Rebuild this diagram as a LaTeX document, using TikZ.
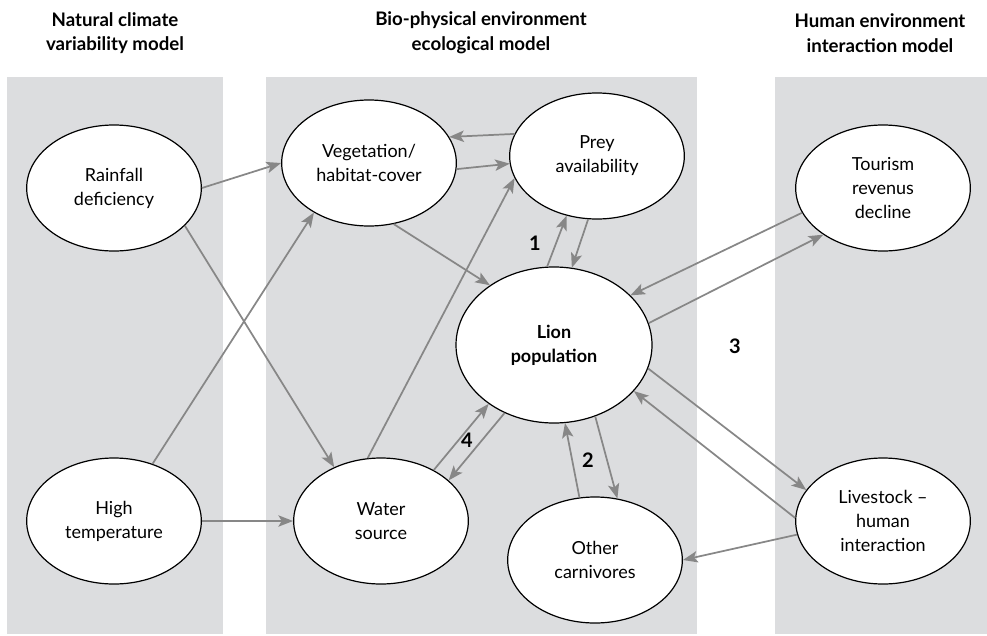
\documentclass[tikz,border=0pt]{standalone}
\usepackage{fontspec}
\setmainfont{Lato}
\usetikzlibrary{arrows.meta,shapes.geometric}
\definecolor{bandgray}{HTML}{DCDDDF}
\definecolor{linkgray}{HTML}{878787}
\begin{document}
\begin{tikzpicture}[x=0.75pt, y=-0.75pt,
    every node/.style={font=\fontsize{13.5}{18}\selectfont, align=center},
    factor/.style={draw, ellipse, fill=white, line width=0.9pt, inner sep=0pt,
      minimum width=131pt, minimum height=94.5pt},
    link/.style={draw=linkgray, line width=1.3pt,
      -{Stealth[length=11pt,width=8.5pt,inset=2.5pt]}},
    heading/.style={font=\bfseries\fontsize{14}{18.5}\selectfont},
    tag/.style={font=\bfseries\fontsize{15}{18}\selectfont}]
  \useasboundingbox (0,0) rectangle (987,635);
  % the three model bands
  \fill [bandgray] (7,77) rectangle (223,634);
  \fill [bandgray] (266,77) rectangle (697,634);
  \fill [bandgray] (775,77) rectangle (987,634);
  \node [heading] (climate) at (115,33) {Natural climate\\variability model};
  \node [heading] (bio) at (481,33) {Bio-physical environment\\ecological model};
  \node [heading] (human) at (880,33) {Human environment\\interaction model};
  % factors
  \node [factor] (rain) at (114,188) {Rainfall\\deficiency};
  \node [factor] (temp) at (114,521) {High\\temperature};
  \node [factor] (veg) at (369,163) {Vegetation/\\habitat-cover};
  \node [factor] (prey) at (597,156) {Prey\\availability};
  \node [factor, minimum width=147pt, minimum height=117pt] (lion) at (554,345) {\textbf{Lion}\\\textbf{population}};
  \node [factor] (water) at (381,521) {Water\\source};
  \node [factor] (other) at (595,560) {Other\\carnivores};
  \node [factor] (tour) at (883,188) {Tourism\\revenus\\decline};
  \node [factor] (live) at (883,521) {Livestock --\\human\\interaction};
  % links
  \draw [link] (rain.0) -- (veg.180);
  \draw [link] (rain.-28) -- (water.131);
  \draw [link] (temp.56) -- (veg.222);
  \draw [link] (temp.0) -- (water.180);
  \draw [link] (prey.165) -- (veg.18);
  \draw [link] (veg.-4) -- (prey.185);
  \draw [link] (water.102) -- (prey.195);
  \draw [link] (veg.292) -- (lion.137);
  \draw [link] (lion.95) -- (prey.243);
  \draw [link] (prey.262) -- (lion.77);
  \draw [link] (tour.197) -- (lion.33);
  \draw [link] (lion.13) -- (tour.218);
  \draw [link] (lion.-14) -- (live.158);
  \draw [link] (live.178) -- (lion.-30);
  \draw [link] (live.189) -- (other.0);
  \draw [link] (other.104) -- (lion.278);
  \draw [link] (lion.300) -- (other.70);
  \draw [link] (water.44) -- (lion.222);
  \draw [link] (lion.234) -- (water.31);
  % loop numbers
  \node [tag] (n1) at (535,243) {1};
  \node [tag] (n2) at (588,460) {2};
  \node [tag] (n3) at (735,346) {3};
  \node [tag] (n4) at (467,440) {4};
\end{tikzpicture}
\end{document}
